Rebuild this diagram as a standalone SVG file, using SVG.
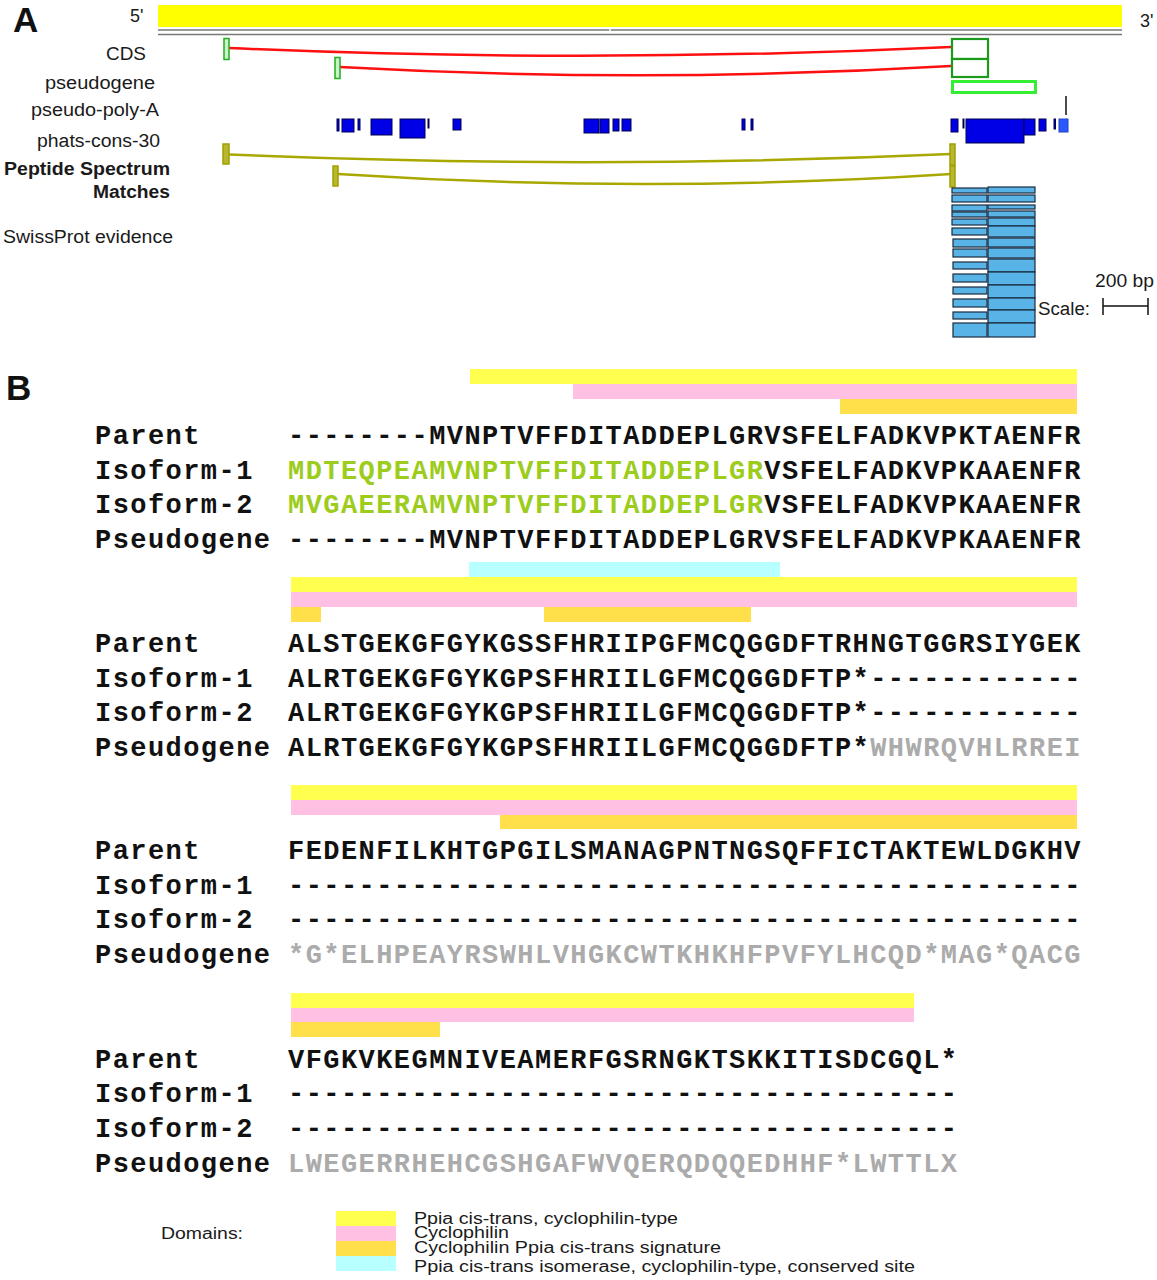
<svg xmlns="http://www.w3.org/2000/svg" width="1157" height="1280" viewBox="0 0 1157 1280">
<style>
.lbl{font-family:"Liberation Sans",Arial,sans-serif;font-size:18px;fill:#1a1a1a}
.lblb{font-family:"Liberation Sans",Arial,sans-serif;font-size:18px;font-weight:bold;fill:#1a1a1a}
.big{font-family:"Liberation Sans",Arial,sans-serif;font-size:35px;font-weight:bold;fill:#111}
.seq{font-family:"Liberation Mono","Courier New",monospace;font-size:27px;font-weight:bold;letter-spacing:1.44px;fill:#111}
.grn{fill:#9ccc1c}
.gry{fill:#ababab}
.y{fill:#ffff50}.p{fill:#ffc0e4}.o{fill:#ffe04a}.c{fill:#b8ffff}
.cds{fill:none;stroke:#ff1010;stroke-width:2.5}
.psm{fill:none;stroke:#a8a800;stroke-width:2.5}
.psmb{fill:#b8b830;stroke:#a0a000;stroke-width:1.5}
.ph{fill:#0000e6;stroke:#000050;stroke-width:1}
.sp{fill:#58b3e6;stroke:#1a2a40;stroke-width:1.2}
.leg{font-family:"Liberation Sans",Arial,sans-serif;font-size:16px;fill:#1a1a1a}
</style>

<!-- Panel A -->
<g id="panelA">
<text class="big" x="13" y="32">A</text>
<g id="chromosome">
<rect x="158" y="5" width="964" height="22" fill="#ffff00"/>
<line x1="158" y1="30" x2="1122" y2="30" stroke="#777" stroke-width="1.5"/>
<line x1="158" y1="34.5" x2="1122" y2="34.5" stroke="#777" stroke-width="1.5"/>
<line x1="610" y1="29" x2="610" y2="31" stroke="#fff" stroke-width="1.5"/>
<text class="lbl" x="130" y="22" font-size="16">5'</text>
<text class="lbl" x="1140" y="27" font-size="16">3'</text>
</g>
<g id="track-labels">
<text class="lbl" x="106" y="60" textLength="40" lengthAdjust="spacingAndGlyphs">CDS</text>
<text class="lbl" x="45" y="89" textLength="110" lengthAdjust="spacingAndGlyphs">pseudogene</text>
<text class="lbl" x="31" y="116" textLength="128" lengthAdjust="spacingAndGlyphs">pseudo-poly-A</text>
<text class="lbl" x="37" y="147" textLength="123" lengthAdjust="spacingAndGlyphs">phats-cons-30</text>
<text class="lblb" x="4" y="175" textLength="166" lengthAdjust="spacingAndGlyphs">Peptide Spectrum</text>
<text class="lblb" x="93" y="198" textLength="77" lengthAdjust="spacingAndGlyphs">Matches</text>
<text class="lbl" x="3" y="243" textLength="170" lengthAdjust="spacingAndGlyphs">SwissProt evidence</text>
</g>
<g id="cds-track">
<path class="cds" d="M229,48 Q590,64 951,47"/>
<path class="cds" d="M340,67 Q646,84 951,66"/>
<rect x="224" y="38.5" width="5" height="21" fill="#c8f4c8" stroke="#22aa22" stroke-width="1.5"/>
<rect x="335" y="57.5" width="5" height="21" fill="#c8f4c8" stroke="#22aa22" stroke-width="1.5"/>
<rect x="952" y="39" width="36" height="20" fill="#fff" stroke="#1c9a1c" stroke-width="2.2"/>
<rect x="952" y="59" width="36" height="18" fill="#fff" stroke="#1c9a1c" stroke-width="2.2"/>
</g>
<g id="pseudogene-track">
<rect x="952.5" y="81.5" width="83" height="11" fill="#fff" stroke="#33ee33" stroke-width="3"/>
</g>
<g id="polyA-track">
<line x1="1066" y1="96" x2="1066" y2="115" stroke="#111" stroke-width="1.5"/>
</g>
<g id="phats-track">
<rect class="ph" x="337" y="119" width="2" height="12"/>
<rect class="ph" x="342" y="119" width="12" height="13"/>
<rect class="ph" x="358" y="119" width="2" height="11"/>
<rect class="ph" x="371" y="119" width="21" height="16"/>
<rect class="ph" x="400" y="119" width="25" height="19"/>
<rect class="ph" x="428" y="119" width="1" height="9"/>
<rect class="ph" x="453" y="119" width="8" height="11"/>
<rect class="ph" x="584" y="119" width="15" height="14"/>
<rect class="ph" x="600" y="119" width="9" height="14"/>
<rect class="ph" x="613" y="119" width="6" height="12"/>
<rect class="ph" x="622" y="119" width="9" height="12"/>
<rect class="ph" x="742" y="119" width="3" height="11"/>
<rect class="ph" x="751" y="119" width="2" height="11"/>
<rect class="ph" x="951" y="119" width="7" height="13"/>
<rect class="ph" x="963" y="119" width="1" height="9"/>
<rect class="ph" x="966" y="119" width="58" height="24"/>
<rect class="ph" x="1024" y="119" width="11" height="16"/>
<rect class="ph" x="1039" y="119" width="7" height="12"/>
<rect class="ph" x="1054" y="119" width="1.5" height="10"/>
<rect x="1059" y="119" width="9" height="13" fill="#2a5aff" stroke="#2040c0" stroke-width="1"/>
</g>
<g id="psm-track">
<path class="psm" d="M229,154.5 Q590,170 951,154"/>
<path class="psm" d="M338,174 Q645,194 951,174"/>
<rect class="psmb" x="223" y="144" width="6" height="20"/>
<rect class="psmb" x="950" y="144" width="5" height="21"/>
<rect class="psmb" x="333" y="166" width="5" height="20"/>
<rect class="psmb" x="950" y="166" width="5" height="21"/>
</g>
<g id="swissprot-track">
<rect class="sp" x="952" y="188" width="35" height="5"/>
<rect class="sp" x="952" y="195" width="35" height="7"/>
<rect class="sp" x="952" y="205" width="35" height="6"/>
<rect class="sp" x="952" y="212" width="35" height="5"/>
<rect class="sp" x="952" y="219" width="35" height="6"/>
<rect class="sp" x="952" y="228" width="35" height="7"/>
<rect class="sp" x="953" y="239" width="34" height="8"/>
<rect class="sp" x="953" y="249" width="34" height="8"/>
<rect class="sp" x="953" y="262" width="34" height="7"/>
<rect class="sp" x="953" y="274" width="34" height="8"/>
<rect class="sp" x="953" y="287" width="34" height="7"/>
<rect class="sp" x="953" y="299" width="34" height="8"/>
<rect class="sp" x="953" y="312" width="34" height="7"/>
<rect class="sp" x="953" y="323" width="34" height="14"/>
<rect class="sp" x="988" y="187" width="47" height="6"/>
<rect class="sp" x="988" y="195" width="47" height="7"/>
<rect class="sp" x="988" y="205" width="47" height="4"/>
<rect class="sp" x="988" y="211" width="47" height="6"/>
<rect class="sp" x="988" y="218" width="47" height="8"/>
<rect class="sp" x="988" y="226" width="47" height="11"/>
<rect class="sp" x="988" y="238" width="47" height="9"/>
<rect class="sp" x="988" y="248" width="47" height="10"/>
<rect class="sp" x="988" y="259" width="47" height="13"/>
<rect class="sp" x="988" y="272" width="47" height="13"/>
<rect class="sp" x="988" y="285" width="47" height="13"/>
<rect class="sp" x="988" y="298" width="47" height="12"/>
<rect class="sp" x="988" y="310" width="47" height="13"/>
<rect class="sp" x="988" y="323" width="47" height="14"/>
</g>
<g id="scale">
<text class="lbl" x="1095" y="287" textLength="59" lengthAdjust="spacingAndGlyphs">200 bp</text>
<text class="lbl" x="1038" y="315" textLength="52" lengthAdjust="spacingAndGlyphs">Scale:</text>
<line x1="1103" y1="306" x2="1148" y2="306" stroke="#111" stroke-width="1.5"/>
<line x1="1103" y1="298" x2="1103" y2="315" stroke="#111" stroke-width="1.5"/>
<line x1="1148" y1="298" x2="1148" y2="315" stroke="#111" stroke-width="1.5"/>
</g>
</g>

<!-- Panel B -->
<g id="panelB">
<text class="big" x="6" y="400">B</text>
<g id="domain-bars">
<rect class="y" x="470" y="369" width="607" height="15"/>
<rect class="p" x="573" y="384" width="504" height="15"/>
<rect class="o" x="840" y="399" width="237" height="15"/>
<rect class="c" x="469" y="562" width="311" height="15"/>
<rect class="y" x="291" y="577" width="786" height="15"/>
<rect class="p" x="291" y="592" width="786" height="15"/>
<rect class="o" x="291" y="607" width="30" height="15"/>
<rect class="o" x="544" y="607" width="207" height="15"/>
<rect class="y" x="291" y="785" width="786" height="15"/>
<rect class="p" x="291" y="800" width="786" height="15"/>
<rect class="o" x="500" y="815" width="577" height="14"/>
<rect class="y" x="291" y="993" width="623" height="15"/>
<rect class="p" x="291" y="1008" width="623" height="14"/>
<rect class="o" x="291" y="1022" width="149" height="15"/>
</g>
<g id="block1">
<text class="seq" x="95" y="444">Parent</text>
<text class="seq" x="95" y="479">Isoform-1</text>
<text class="seq" x="95" y="513">Isoform-2</text>
<text class="seq" x="95" y="548">Pseudogene</text>
<text class="seq" x="288" y="444">--------MVNPTVFFDITADDEPLGRVSFELFADKVPKTAENFR</text>
<text class="seq" x="288" y="479"><tspan class="grn">MDTEQPEAMVNPTVFFDITADDEPLGR</tspan>VSFELFADKVPKAAENFR</text>
<text class="seq" x="288" y="513"><tspan class="grn">MVGAEERAMVNPTVFFDITADDEPLGR</tspan>VSFELFADKVPKAAENFR</text>
<text class="seq" x="288" y="548">--------MVNPTVFFDITADDEPLGRVSFELFADKVPKAAENFR</text>
</g>
<g id="block2">
<text class="seq" x="95" y="652">Parent</text>
<text class="seq" x="95" y="687">Isoform-1</text>
<text class="seq" x="95" y="721">Isoform-2</text>
<text class="seq" x="95" y="756">Pseudogene</text>
<text class="seq" x="288" y="652">ALSTGEKGFGYKGSSFHRIIPGFMCQGGDFTRHNGTGGRSIYGEK</text>
<text class="seq" x="288" y="687">ALRTGEKGFGYKGPSFHRIILGFMCQGGDFTP*------------</text>
<text class="seq" x="288" y="721">ALRTGEKGFGYKGPSFHRIILGFMCQGGDFTP*------------</text>
<text class="seq" x="288" y="756">ALRTGEKGFGYKGPSFHRIILGFMCQGGDFTP*<tspan class="gry">WHWRQVHLRREI</tspan></text>
</g>
<g id="block3">
<text class="seq" x="95" y="859">Parent</text>
<text class="seq" x="95" y="894">Isoform-1</text>
<text class="seq" x="95" y="928">Isoform-2</text>
<text class="seq" x="95" y="963">Pseudogene</text>
<text class="seq" x="288" y="859">FEDENFILKHTGPGILSMANAGPNTNGSQFFICTAKTEWLDGKHV</text>
<text class="seq" x="288" y="894">---------------------------------------------</text>
<text class="seq" x="288" y="928">---------------------------------------------</text>
<text class="seq gry" x="288" y="963">*G*ELHPEAYRSWHLVHGKCWTKHKHFPVFYLHCQD*MAG*QACG</text>
</g>
<g id="block4">
<text class="seq" x="95" y="1068">Parent</text>
<text class="seq" x="95" y="1102">Isoform-1</text>
<text class="seq" x="95" y="1137">Isoform-2</text>
<text class="seq" x="95" y="1172">Pseudogene</text>
<text class="seq" x="288" y="1068">VFGKVKEGMNIVEAMERFGSRNGKTSKKITISDCGQL*</text>
<text class="seq" x="288" y="1102">--------------------------------------</text>
<text class="seq" x="288" y="1137">--------------------------------------</text>
<text class="seq gry" x="288" y="1172">LWEGERRHEHCGSHGAFWVQERQDQQEDHHF*LWTTLX</text>
</g>
<g id="legend">
<text class="leg" x="161" y="1239" textLength="82" lengthAdjust="spacingAndGlyphs">Domains:</text>
<rect class="y" x="336" y="1211" width="60" height="15"/>
<rect class="p" x="336" y="1226" width="60" height="15"/>
<rect class="o" x="336" y="1241" width="60" height="15"/>
<rect class="c" x="336" y="1256" width="60" height="15"/>
<text class="leg" x="414" y="1224" textLength="264" lengthAdjust="spacingAndGlyphs">Ppia cis-trans, cyclophilin-type</text>
<text class="leg" x="414" y="1238" textLength="95" lengthAdjust="spacingAndGlyphs">Cyclophilin</text>
<text class="leg" x="414" y="1253" textLength="307" lengthAdjust="spacingAndGlyphs">Cyclophilin Ppia cis-trans signature</text>
<text class="leg" x="414" y="1272" textLength="501" lengthAdjust="spacingAndGlyphs">Ppia cis-trans isomerase, cyclophilin-type, conserved site</text>
</g>
</g>
</svg>
